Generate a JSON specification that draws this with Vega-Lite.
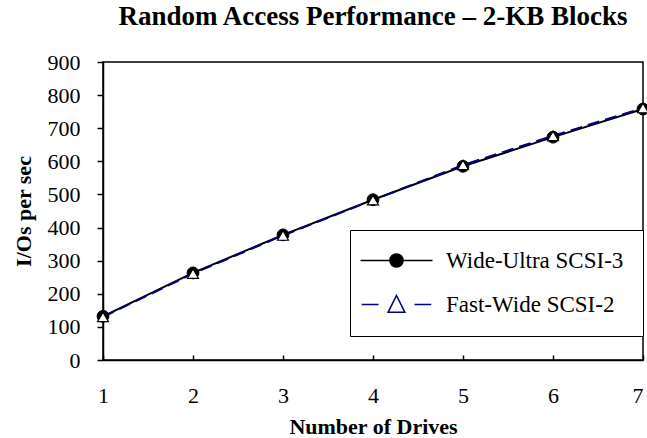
{
  "$schema": "https://vega.github.io/schema/vega-lite/v6.json",
  "width": 540,
  "height": 298,
  "autosize": {"type": "none"},
  "padding": {"left": 103, "top": 62, "right": 4, "bottom": 78},
  "background": "white",
  "config": {"view": {"stroke": "black", "strokeWidth": 1.5}, "font": "Liberation Serif"},
  "title": {"text": "Random Access Performance – 2-KB Blocks", "font": "Liberation Serif", "fontSize": 27, "fontWeight": "bold", "anchor": "middle", "offset": 20, "color": "black"},
  "data": {"values": [
    {"series": "Wide-Ultra SCSI-3", "drives": 1, "ios": 132},
    {"series": "Wide-Ultra SCSI-3", "drives": 2, "ios": 263},
    {"series": "Wide-Ultra SCSI-3", "drives": 3, "ios": 378},
    {"series": "Wide-Ultra SCSI-3", "drives": 4, "ios": 484},
    {"series": "Wide-Ultra SCSI-3", "drives": 5, "ios": 585},
    {"series": "Wide-Ultra SCSI-3", "drives": 6, "ios": 673},
    {"series": "Wide-Ultra SCSI-3", "drives": 7, "ios": 758},
    {"series": "Fast-Wide SCSI-2", "drives": 1, "ios": 130},
    {"series": "Fast-Wide SCSI-2", "drives": 2, "ios": 261},
    {"series": "Fast-Wide SCSI-2", "drives": 3, "ios": 376},
    {"series": "Fast-Wide SCSI-2", "drives": 4, "ios": 483},
    {"series": "Fast-Wide SCSI-2", "drives": 5, "ios": 589},
    {"series": "Fast-Wide SCSI-2", "drives": 6, "ios": 677},
    {"series": "Fast-Wide SCSI-2", "drives": 7, "ios": 761}
  ]},
  "encoding": {
    "x": {"field": "drives", "type": "quantitative", "scale": {"domain": [1, 7], "nice": false, "zero": false},
      "axis": {"title": "Number of Drives", "titleFont": "Liberation Serif", "titleFontSize": 22, "titleFontWeight": "bold", "titleColor": "black", "titlePadding": 10,
        "labelFont": "Liberation Serif", "labelFontSize": 22, "labelColor": "black", "labelPadding": 30, "labelFlush": false,
        "labelAlign": {"condition": {"test": "datum.value === 7", "value": "right"}, "value": "center"},
        "values": [1, 2, 3, 4, 5, 6, 7], "format": "d", "grid": false,
        "domainColor": "black", "domainWidth": 1.5, "tickColor": "black", "tickWidth": 1.5, "tickSize": -5}},
    "y": {"field": "ios", "type": "quantitative", "scale": {"domain": [0, 900], "nice": false},
      "axis": {"title": "I/Os per sec", "titleFont": "Liberation Serif", "titleFontSize": 22, "titleFontWeight": "bold", "titleColor": "black", "titlePadding": 12,
        "labelFont": "Liberation Serif", "labelFontSize": 22, "labelColor": "black", "labelPadding": 17,
        "values": [0, 100, 200, 300, 400, 500, 600, 700, 800, 900], "grid": false,
        "domainColor": "black", "domainWidth": 1.5, "tickColor": "black", "tickWidth": 1.5, "tickSize": 6}}
  },
  "layer": [
    {
      "transform": [{"filter": "datum.series === 'Wide-Ultra SCSI-3'"}],
      "mark": {"type": "line", "strokeWidth": 2, "color": "black"}
    },
    {
      "transform": [{"filter": "datum.series === 'Fast-Wide SCSI-2'"}],
      "mark": {"type": "line", "strokeWidth": 2, "color": "#000080", "strokeDash": [12, 6]}
    },
    {
      "transform": [{"filter": "datum.series === 'Wide-Ultra SCSI-3'"}],
      "mark": {"type": "point", "shape": "circle", "filled": true, "fill": "black", "stroke": "black", "strokeWidth": 1, "size": 140, "opacity": 1}
    },
    {
      "transform": [{"filter": "datum.series === 'Fast-Wide SCSI-2'"}],
      "mark": {"type": "point", "shape": "triangle-up", "filled": true, "fill": "white", "stroke": "black", "strokeWidth": 1.2, "size": 120, "opacity": 1}
    },
    {
      "transform": [{"filter": "datum.ios < 0"}],
      "mark": {"type": "point", "filled": true, "strokeWidth": 1.5},
      "encoding": {
        "shape": {"field": "series", "type": "nominal",
          "scale": {"domain": ["Wide-Ultra SCSI-3", "Fast-Wide SCSI-2"], "range": ["M-6,0H6M-1.1,0A1.1,1.1,0,1,0,1.1,0A1.1,1.1,0,1,0,-1.1,0Z", "M-5.8,0H-3M3,0H5.8M0,-1.5L1.4,1.3L-1.4,1.3Z"]},
          "legend": {"title": null, "orient": "none", "legendX": 247, "legendY": 168, "padding": 19, "strokeColor": "black", "fillColor": "white",
            "symbolSize": 144, "symbolStrokeWidth": 1.5, "symbolOffset": 16, "symbolOpacity": 1, "labelOffset": 38,
            "labelFont": "Liberation Serif", "labelFontSize": 23, "labelColor": "black", "labelLimit": 300, "rowPadding": 19}},
        "fill": {"field": "series", "type": "nominal", "scale": {"domain": ["Wide-Ultra SCSI-3", "Fast-Wide SCSI-2"], "range": ["black", "white"]},
          "legend": {"title": null, "orient": "none", "legendX": 247, "legendY": 168}},
        "stroke": {"field": "series", "type": "nominal", "scale": {"domain": ["Wide-Ultra SCSI-3", "Fast-Wide SCSI-2"], "range": ["black", "#000080"]},
          "legend": {"title": null, "orient": "none", "legendX": 247, "legendY": 168}}
      }
    }
  ]
}
